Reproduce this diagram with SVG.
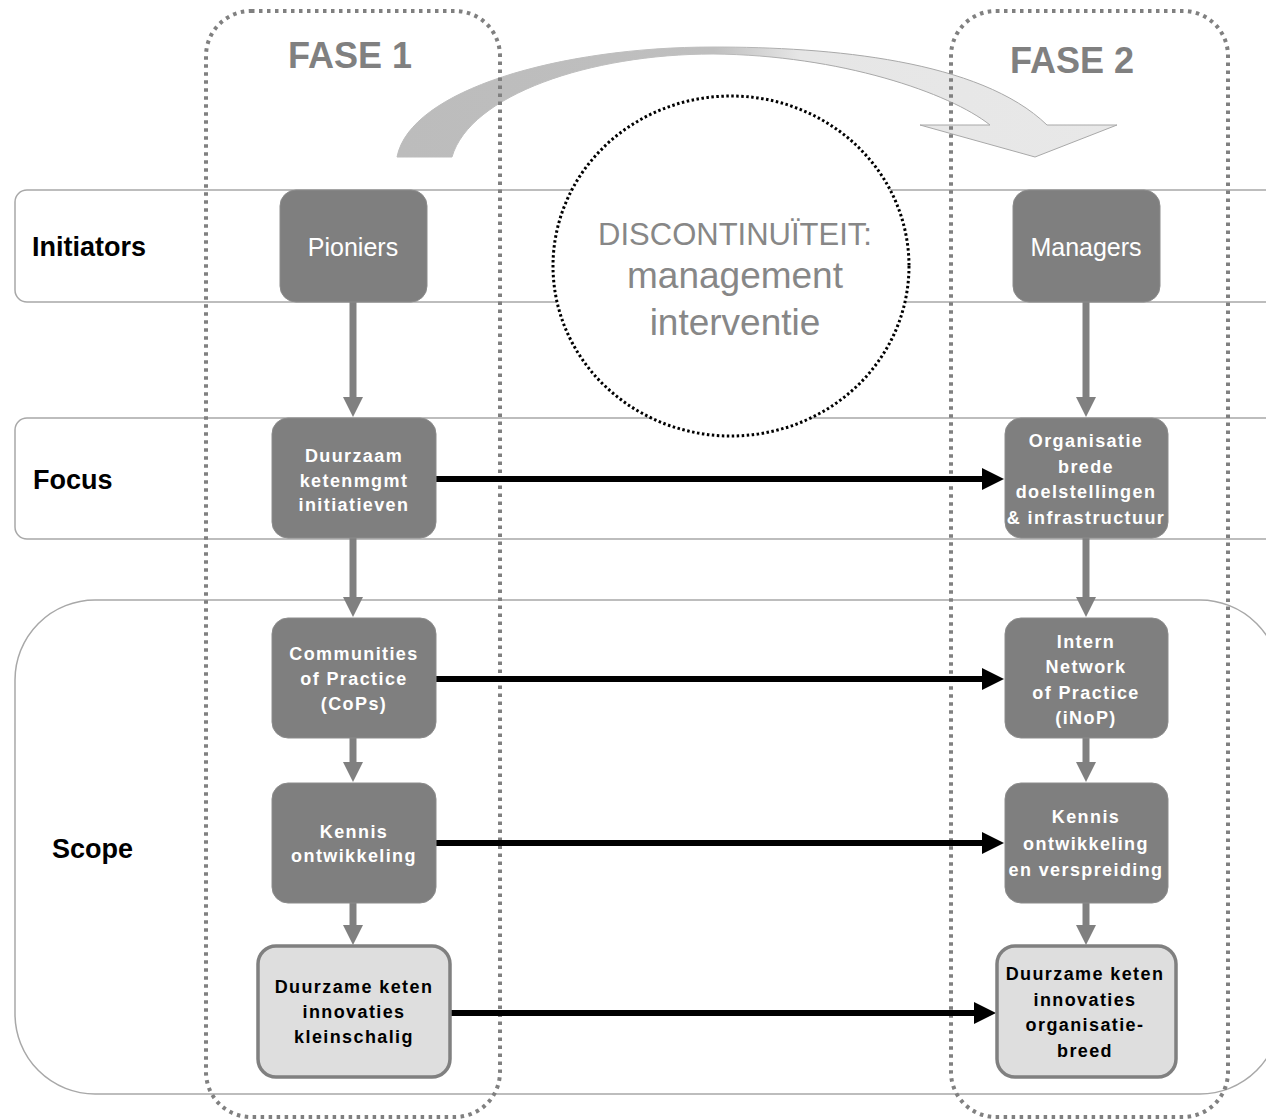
<svg xmlns="http://www.w3.org/2000/svg" width="1266" height="1119" viewBox="0 0 1266 1119">
<style>
.band{fill:none;stroke:#a8a8a8;stroke-width:1.5}
.phase{fill:none;stroke:#808080;stroke-width:4;stroke-dasharray:3.5 4.5}
.lbl{font-family:"Liberation Sans",Arial,sans-serif;font-weight:bold;font-size:27px;fill:#000}
.fase{font-family:"Liberation Sans",Arial,sans-serif;font-weight:bold;font-size:36px;fill:#808080;text-anchor:middle}
.node{fill:#7f7f7f;stroke:#8c8c8c;stroke-width:1}
.nodeL{fill:#dedede;stroke:#808080;stroke-width:3.5}
.t1{font-family:"Liberation Sans",Arial,sans-serif;font-size:25px;fill:#fff;text-anchor:middle}
.t2{font-family:"Liberation Sans",Arial,sans-serif;font-weight:bold;font-size:18px;letter-spacing:1.4px;fill:#fff;text-anchor:middle}
.t3{font-family:"Liberation Sans",Arial,sans-serif;font-weight:bold;font-size:18px;letter-spacing:1.4px;fill:#000;text-anchor:middle}
.gv{stroke:#808080;stroke-width:7;fill:none}
.bh{stroke:#000;stroke-width:6;fill:none}
.disc{font-family:"Liberation Sans",Arial,sans-serif;fill:#878787;text-anchor:middle}
</style>
<defs>
<marker id="ag" markerUnits="userSpaceOnUse" markerWidth="20" markerHeight="20" refX="1" refY="10" orient="auto">
<path d="M0,0 L20,10 L0,20 z" fill="#808080"/>
</marker>
<marker id="ab" markerUnits="userSpaceOnUse" markerWidth="22" markerHeight="22" refX="1" refY="11" orient="auto">
<path d="M0,0 L22,11 L0,22 z" fill="#000"/>
</marker>
<linearGradient id="arcg" gradientUnits="userSpaceOnUse" x1="397" y1="0" x2="1117" y2="0">
<stop offset="0" stop-color="#bcbcbc"/>
<stop offset="0.44" stop-color="#bfbfbf"/>
<stop offset="0.56" stop-color="#e6e6e6"/>
<stop offset="1" stop-color="#e8e8e8"/>
</linearGradient>
<linearGradient id="arcs" gradientUnits="userSpaceOnUse" x1="397" y1="0" x2="1117" y2="0">
<stop offset="0" stop-color="#bcbcbc"/>
<stop offset="0.44" stop-color="#bfbfbf"/>
<stop offset="0.56" stop-color="#a8a8a8"/>
<stop offset="1" stop-color="#a8a8a8"/>
</linearGradient>
</defs>

<g id="bands">
<rect class="band" x="15" y="190" width="1262" height="112" rx="12"/>
<rect class="band" x="15" y="418" width="1262" height="121" rx="12"/>
<rect class="band" x="15" y="600" width="1265" height="494" rx="80"/>
<text class="lbl" x="32" y="256">Initiators</text>
<text class="lbl" x="33" y="489">Focus</text>
<text class="lbl" x="52" y="858">Scope</text>
</g>

<g id="transition-arrow">
<path d="M397,157 C410,90 560,47 713,47 C830,47 980,60 1047,125 L1117,125 L1035,157 L920,125 L990,125 C950,93 840,55 713,54 C590,54 470,95 452,157 Z" fill="url(#arcg)" stroke="url(#arcs)" stroke-width="1"/>
</g>

<g id="discontinuiteit">
<ellipse cx="731" cy="266" rx="178" ry="170" fill="#fff" stroke="#000" stroke-width="3" stroke-dasharray="2.5 2.5"/>
<text class="disc" x="735" y="245" font-size="31">DISCONTINUÏTEIT:</text>
<text class="disc" x="735" y="288" font-size="37">management</text>
<text class="disc" x="735" y="335" font-size="37">interventie</text>
</g>

<g id="fase1">
<rect class="phase" x="206" y="11" width="294" height="1106" rx="45"/>
<text class="fase" x="350" y="68">FASE 1</text>
</g>
<g id="fase2">
<rect class="phase" x="951" y="11" width="277" height="1106" rx="45"/>
<text class="fase" x="1072" y="73">FASE 2</text>
</g>

<g id="connectors">
<line class="gv" x1="353" y1="302" x2="353" y2="398" marker-end="url(#ag)"/>
<line class="gv" x1="353" y1="538" x2="353" y2="598" marker-end="url(#ag)"/>
<line class="gv" x1="353" y1="738" x2="353" y2="763" marker-end="url(#ag)"/>
<line class="gv" x1="353" y1="903" x2="353" y2="926" marker-end="url(#ag)"/>
<line class="gv" x1="1086" y1="302" x2="1086" y2="398" marker-end="url(#ag)"/>
<line class="gv" x1="1086" y1="538" x2="1086" y2="598" marker-end="url(#ag)"/>
<line class="gv" x1="1086" y1="738" x2="1086" y2="763" marker-end="url(#ag)"/>
<line class="gv" x1="1086" y1="903" x2="1086" y2="926" marker-end="url(#ag)"/>
<line class="bh" x1="436" y1="479" x2="983" y2="479" marker-end="url(#ab)"/>
<line class="bh" x1="436" y1="679" x2="983" y2="679" marker-end="url(#ab)"/>
<line class="bh" x1="436" y1="843" x2="983" y2="843" marker-end="url(#ab)"/>
<line class="bh" x1="450" y1="1013" x2="975" y2="1013" marker-end="url(#ab)"/>
</g>

<g id="pioniers">
<rect class="node" x="280" y="190" width="147" height="112" rx="16"/>
<text class="t1" x="353" y="256">Pioniers</text>
</g>
<g id="managers">
<rect class="node" x="1013" y="190" width="147" height="112" rx="16"/>
<text class="t1" x="1086" y="256">Managers</text>
</g>

<g id="duurzaam-ketenmgmt">
<rect class="node" x="272" y="418" width="164" height="120" rx="16"/>
<text class="t2" x="354" y="462">Duurzaam</text>
<text class="t2" x="354" y="487">ketenmgmt</text>
<text class="t2" x="354" y="511">initiatieven</text>
</g>
<g id="organisatie-brede">
<rect class="node" x="1005" y="418" width="163" height="120" rx="16"/>
<text class="t2" x="1086" y="447">Organisatie</text>
<text class="t2" x="1086" y="473">brede</text>
<text class="t2" x="1086" y="498">doelstellingen</text>
<text class="t2" x="1086" y="524">&amp; infrastructuur</text>
</g>

<g id="cops">
<rect class="node" x="272" y="618" width="164" height="120" rx="16"/>
<text class="t2" x="354" y="660">Communities</text>
<text class="t2" x="354" y="685">of Practice</text>
<text class="t2" x="354" y="710">(CoPs)</text>
</g>
<g id="inop">
<rect class="node" x="1005" y="618" width="163" height="120" rx="16"/>
<text class="t2" x="1086" y="648">Intern</text>
<text class="t2" x="1086" y="673">Network</text>
<text class="t2" x="1086" y="699">of Practice</text>
<text class="t2" x="1086" y="724">(iNoP)</text>
</g>

<g id="kennis-1">
<rect class="node" x="272" y="783" width="164" height="120" rx="16"/>
<text class="t2" x="354" y="838">Kennis</text>
<text class="t2" x="354" y="862">ontwikkeling</text>
</g>
<g id="kennis-2">
<rect class="node" x="1005" y="783" width="163" height="120" rx="16"/>
<text class="t2" x="1086" y="823">Kennis</text>
<text class="t2" x="1086" y="850">ontwikkeling</text>
<text class="t2" x="1086" y="876">en verspreiding</text>
</g>

<g id="innovaties-kleinschalig">
<rect class="nodeL" x="258" y="946" width="192" height="131" rx="18"/>
<text class="t3" x="354" y="993">Duurzame keten</text>
<text class="t3" x="354" y="1018">innovaties</text>
<text class="t3" x="354" y="1043">kleinschalig</text>
</g>
<g id="innovaties-organisatiebreed">
<rect class="nodeL" x="997" y="946" width="179" height="131" rx="18"/>
<text class="t3" x="1085" y="980">Duurzame keten</text>
<text class="t3" x="1085" y="1006">innovaties</text>
<text class="t3" x="1085" y="1031">organisatie-</text>
<text class="t3" x="1085" y="1057">breed</text>
</g>
</svg>
